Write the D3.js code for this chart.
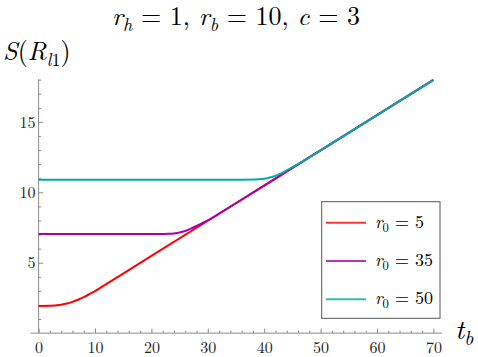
<!DOCTYPE html>
<html>
<head>
<meta charset="utf-8">
<script src="https://cdn.jsdelivr.net/npm/d3@7"></script>
<style>
  body { margin: 0; background: #fff; }
  svg { display: block; }
</style>
</head>
<body>
<script>
// values
const tbRed = [0, 2, 4, 5, 6, 7, 8, 9, 10, 11, 12, 14, 20, 30, 40, 50, 60, 70];
const sRed  = [1.93, 1.94, 2.02, 2.1, 2.22, 2.37, 2.55, 2.76, 2.98, 3.23, 3.48, 3.98, 5.48, 7.98, 10.48, 12.98, 15.48, 17.98];

const tbMag = [0, 10, 20, 22, 23, 24, 25, 26, 27, 28, 29, 30, 32, 40, 50, 60, 70];
const sMag  = [7.03, 7.03, 7.03, 7.04, 7.05, 7.08, 7.14, 7.25, 7.42, 7.62, 7.81, 8.0, 8.48, 10.48, 12.98, 15.48, 17.98];

const tbCyan = [0, 10, 20, 30, 36, 38, 39, 40, 41, 42, 43, 44, 45, 46, 48, 50, 60, 70];
const sCyan  = [10.9, 10.9, 10.9, 10.9, 10.9, 10.91, 10.93, 10.97, 11.05, 11.17, 11.34, 11.55, 11.78, 12.0, 12.48, 12.98, 15.48, 17.98];

const r0Labels = ['5', '35', '50'];
const xTicks = [0, 10, 20, 30, 40, 50, 60, 70];
const yTicks = [5, 10, 15];

const series = [
  {r0: r0Labels[0], t: tbRed, s: sRed, color: '#ff0000'},
  {r0: r0Labels[1], t: tbMag, s: sMag, color: '#aa00aa'},
  {r0: r0Labels[2], t: tbCyan, s: sCyan, color: '#00aaaa'}
];

const width = 478, height = 357;
const font = "'Latin Modern Roman'";

const svg = d3.select('body').append('svg')
  .attr('width', width)
  .attr('height', height);

const x = d3.scaleLinear().domain([0, 70]).range([38.6, 433.4]);
const y = d3.scaleLinear().domain([0, 15]).range([333.1, 121.9]);

// little helper for math-ish text: parts are [text, kind]
function mathText(g, px, py, size, parts, anchor) {
  const t = g.append('text')
    .attr('x', px).attr('y', py)
    .style('font-family', font)
    .attr('font-size', size)
    .attr('fill', '#000')
    .attr('text-anchor', anchor || 'start')
    .style('white-space', 'pre');
  const drop = size * 0.22;
  let shifted = false;
  parts.forEach(p => {
    const sp = t.append('tspan').text(p[0]);
    if (p[1] === 'i' || p[1] === 'isub') sp.style('font-style', 'italic');
    const isSub = p[1] === 'sub' || p[1] === 'isub';
    if (isSub) {
      sp.attr('font-size', size * 0.7);
      if (!shifted) sp.attr('dy', drop);
      shifted = true;
    } else if (shifted) {
      sp.attr('dy', -drop);
      shifted = false;
    }
  });
  return t;
}

// axes
const axisColor = '#8a8a8a';
svg.append('line')
  .attr('x1', x(-1.45)).attr('x2', x(71.5))
  .attr('y1', y(0)).attr('y2', y(0))
  .attr('stroke', axisColor).attr('stroke-width', 1);
svg.append('line')
  .attr('x1', x(0)).attr('x2', x(0))
  .attr('y1', y(0)).attr('y2', y(18.03))
  .attr('stroke', axisColor).attr('stroke-width', 1);

const xMinor = d3.range(2, 72, 2).filter(v => v % 10 !== 0);
const yMinor = d3.range(1, 19, 1).filter(v => v % 5 !== 0);

const gx = svg.append('g').attr('transform', `translate(0,${y(0)})`);
gx.call(d3.axisBottom(x).tickValues(xMinor).tickFormat('').tickSizeInner(-2.5).tickSizeOuter(0));
gx.append('g').call(d3.axisBottom(x).tickValues(xTicks).tickSizeInner(-4.5).tickSizeOuter(0).tickPadding(9));
gx.selectAll('.domain').remove();
gx.selectAll('line').attr('stroke', axisColor);
gx.selectAll('text')
  .style('font-family', font).attr('font-size', 16).attr('fill', '#222');

const gy = svg.append('g').attr('transform', `translate(${x(0)},0)`);
gy.call(d3.axisLeft(y).tickValues(yMinor).tickFormat('').tickSizeInner(-2.5).tickSizeOuter(0));
gy.append('g').call(d3.axisLeft(y).tickValues(yTicks).tickSizeInner(-4.5).tickSizeOuter(0).tickPadding(3));
gy.selectAll('.domain').remove();
gy.selectAll('line').attr('stroke', axisColor);
gy.selectAll('text')
  .style('font-family', font).attr('font-size', 16).attr('fill', '#222');

// curves
const line = d3.line()
  .x(d => x(d[0]))
  .y(d => y(d[1]))
  .curve(d3.curveMonotoneX);

svg.append('g').selectAll('path')
  .data(series)
  .join('path')
  .attr('d', d => line(d.t.map((t, i) => [t, d.s[i]])))
  .attr('fill', 'none')
  .attr('stroke', d => d.color)
  .attr('stroke-width', 2);

// legend
const lg = svg.append('g');
lg.append('rect')
  .attr('x', 321.7).attr('y', 201.7)
  .attr('width', 118.3).attr('height', 116.6)
  .attr('fill', '#fff').attr('stroke', '#555').attr('stroke-width', 1);
const legendY = d3.scalePoint().domain(r0Labels).range([222.7, 299.2]);
series.forEach(d => {
  lg.append('line')
    .attr('x1', 326).attr('x2', 366)
    .attr('y1', legendY(d.r0)).attr('y2', legendY(d.r0))
    .attr('stroke', d.color).attr('stroke-width', 2).attr('opacity', 0.8);
  mathText(lg, 375, legendY(d.r0) + 5, 18, [['r', 'i'], ['0', 'sub'], [' = ' + d.r0, 'n']]);
});

// titles and axis labels
mathText(svg, 236, 25, 26, [['r', 'i'], ['h', 'isub'], [' = 1, ', 'n'], ['r', 'i'], ['b', 'isub'], [' = 10, ', 'n'], ['c', 'i'], [' = 3', 'n']], 'middle');
mathText(svg, 3, 60, 26, [['S', 'i'], ['(', 'n'], ['R', 'i'], ['l', 'isub'], ['1', 'sub'], [')', 'n']]);
mathText(svg, 455, 339, 28, [['t', 'i'], ['b', 'isub']]);
</script>
</body>
</html>
